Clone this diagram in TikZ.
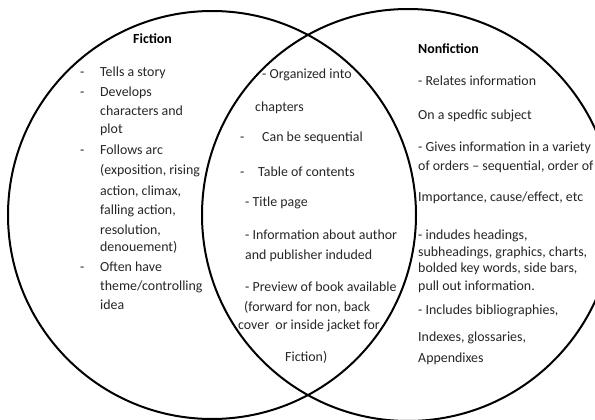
\documentclass[tikz,border=0pt]{standalone}
\usepackage{fontspec}
\setmainfont{Carlito}
\begin{document}
\begin{tikzpicture}[x=1pt,y=-1pt,
  txt/.style={anchor=base west,inner sep=0pt,font=\fontsize{13.9}{15}\selectfont,text=black!85},
  hd/.style={anchor=base west,inner sep=0pt,font=\fontsize{13.9}{15}\selectfont\bfseries},
  ring/.style={line width=2pt,draw=black}]
\useasboundingbox (0,0) rectangle (595,420);
\clip (0,0) rectangle (595,420);
\fill[white] (0,0) rectangle (595,420);
\draw[ring] (212,215) circle [radius=204pt];
\draw[ring] (408,215) circle [radius=206pt];
% Fiction
\node[hd] (fh) at (133,44) {Fiction};
\node[txt] (f1d) at (80,77) {-};
\node[txt] (f1) at (100,77) {Tells a story};
\node[txt] (f2d) at (80,96) {-};
\node[txt] (f2) at (100,96) {Develops};
\node[txt] (f3) at (100,115) {characters and};
\node[txt] (f4) at (100,134) {plot};
\node[txt] (f5d) at (80,154) {-};
\node[txt] (f5) at (100,154) {Follows arc};
\node[txt] (f6) at (100,175) {(exposition, rising};
\node[txt] (f7) at (100,195) {action, climax,};
\node[txt] (f8) at (100,214) {falling action,};
\node[txt] (f9) at (100,234) {resolution,};
\node[txt] (f10) at (100,251) {denouement)};
\node[txt] (f11d) at (80,271) {-};
\node[txt] (f11) at (100,271) {Often have};
\node[txt] (f12) at (100,290) {theme/controlling};
\node[txt] (f13) at (100,309) {idea};
% Both
\node[txt] (b1) at (262,79) {- Organized into};
\node[txt] (b2) at (255,112) {chapters};
\node[txt] (b3d) at (240,142) {-};
\node[txt] (b3) at (262,142) {Can be sequential};
\node[txt] (b4d) at (240,176) {-};
\node[txt] (b4) at (258,176) {Table of contents};
\node[txt] (b5) at (245,206) {- Title page};
\node[txt] (b6) at (245,239) {- Information about author};
\node[txt] (b7) at (245,259) {and publisher induded};
\node[txt] (b8) at (245,291) {- Preview of book available};
\node[txt] (b9) at (244,311) {(forward for non, back};
\node[txt] (b10) at (238,329) {cover\ \ or inside jacket for};
\node[txt] (b11) at (285,361) {Fiction)};
% Nonfiction
\node[hd] (nh) at (418,54) {Nonfiction};
\node[txt] (n1) at (418,86) {- Relates information};
\node[txt] (n2) at (418,119) {On a spedfic subject};
\node[txt] (n3) at (418,151) {- Gives information in a variety};
\node[txt] (n4) at (418,170) {of orders – sequential, order of};
\node[txt] (n5) at (418,201) {Importance, cause/effect, etc};
\node[txt] (n6) at (418,239) {- indudes headings,};
\node[txt] (n7) at (418,256) {subheadings, graphics, charts,};
\node[txt] (n8) at (418,272) {bolded key words, side bars,};
\node[txt] (n9) at (418,290) {pull out information.};
\node[txt] (n10) at (418,314) {- Includes bibliographies,};
\node[txt] (n11) at (418,341) {Indexes, glossaries,};
\node[txt] (n12) at (418,362) {Appendixes};
\end{tikzpicture}
\end{document}
